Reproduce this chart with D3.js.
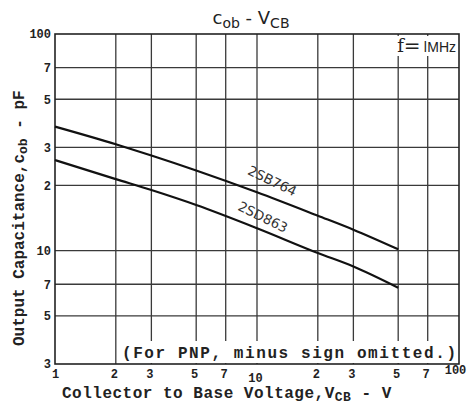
<!DOCTYPE html>
<meta charset="utf-8">
<script src="https://d3js.org/d3.v7.min.js"></script>
<style>
  body { margin: 0; background: #fff; }
</style>
<div id="chart"></div>
<script>

// data (V_CB in volts, C_ob in pF)
const vcb = [1, 2, 3, 5, 10, 20, 30, 50];
const cob2SB764 = [37.4, 31.0, 27.5, 23.45, 18.6, 14.5, 12.5, 10.15];
const cob2SD863 = [26.2, 21.4, 19.05, 16.25, 12.7, 9.76, 8.46, 6.75];

const xGrid = [2, 3, 5, 7, 10, 20, 30, 50, 70];
const yGrid = [5, 7, 10, 20, 30, 50, 70];
const xTickVals = [1, 2, 3, 5, 7, 10, 20, 30, 50, 70, 100];
const xTickText = ["1", "2", "3", "5", "7", "10", "2", "3", "5", "7", "100"];
const yTickVals = [3, 5, 7, 10, 20, 30, 50, 70, 100];
const yTickText = ["3", "5", "7", "10", "2", "3", "5", "7", "100"];

const W = 467, H = 408;
const margin = {top: 34, right: 8, bottom: 44, left: 55};
const width = W - margin.left - margin.right,
      height = H - margin.top - margin.bottom;

const svg = d3.select("#chart").append("svg")
    .attr("width", W)
    .attr("height", H);

const g = svg.append("g")
    .attr("transform", `translate(${margin.left}, ${margin.top})`);

const x = d3.scaleLog().domain([1, 100]).range([0, width]);
const y = d3.scaleLog().domain([3, 100]).range([height, 0]);

const ink = "#222";

// grid
g.selectAll(".vgrid").data(xGrid).join("line")
    .attr("x1", d => x(d)).attr("x2", d => x(d))
    .attr("y1", 0).attr("y2", height)
    .attr("stroke", "#3a3a3a").attr("stroke-width", 1.3);
g.selectAll(".hgrid").data(yGrid).join("line")
    .attr("y1", d => y(d)).attr("y2", d => y(d))
    .attr("x1", 0).attr("x2", width)
    .attr("stroke", "#3a3a3a").attr("stroke-width", 1.3);

// frame
g.append("rect")
    .attr("width", width).attr("height", height)
    .attr("fill", "none").attr("stroke", ink).attr("stroke-width", 1.6);

// curves
const line = d3.line()
    .x((d, i) => x(vcb[i]))
    .y(d => y(d))
    .curve(d3.curveMonotoneX);

[cob2SB764, cob2SD863].forEach(s => {
  g.append("path")
      .attr("d", line(s))
      .attr("fill", "none")
      .attr("stroke", "#111")
      .attr("stroke-width", 2.2);
});

// curve labels
const curveLabel = (txt, v, c) => {
  g.append("text")
      .attr("transform", `translate(${x(v)}, ${y(c)}) rotate(26)`)
      .attr("text-anchor", "middle")
      .attr("dy", "0.35em")
      .style("font-family", "'DejaVu Sans', sans-serif")
      .style("font-size", "13.5px")
      .style("fill", "#333")
      .text(txt);
};
curveLabel("2SB764", 11.9, 21.0);
curveLabel("2SD863", 10.7, 14.3);

// f = 1MHz note
g.append("rect")
    .attr("x", width - 78).attr("y", 2)
    .attr("width", 76).attr("height", 20)
    .attr("fill", "#fff");
const fNote = g.append("text")
    .attr("x", width - 3).attr("y", 18)
    .attr("text-anchor", "end")
    .style("fill", ink);
fNote.append("tspan")
    .style("font-family", "'DejaVu Serif', serif")
    .style("font-size", "18px")
    .text("f");
fNote.append("tspan")
    .style("font-family", "'DejaVu Sans', sans-serif")
    .style("font-size", "20px")
    .text("=");
fNote.append("tspan")
    .style("font-family", "'Liberation Sans Narrow', 'Liberation Sans', sans-serif")
    .style("font-size", "14px")
    .attr("dx", 3)
    .text("ǀMHz");

// PNP note
g.append("rect")
    .attr("x", 66).attr("y", height - 23)
    .attr("width", width - 68).attr("height", 22)
    .attr("fill", "#fff");
g.append("text")
    .attr("x", width - 3).attr("y", height - 6)
    .attr("text-anchor", "end")
    .style("font-family", "'Liberation Mono', monospace")
    .style("font-weight", "bold")
    .style("font-size", "16px")
    .attr("textLength", 334)
    .style("fill", ink)
    .text("(For PNP, minus sign omitted.)");

// axes tick labels
const xAxis = g.append("g")
    .attr("transform", `translate(0, ${height})`)
    .call(d3.axisBottom(x).tickValues(xTickVals).tickSize(0).tickPadding(4)
      .tickFormat((d, i) => xTickText[i]));
xAxis.select(".domain").remove();
xAxis.selectAll("text")
    .style("font-family", "'Liberation Mono', monospace")
    .style("font-weight", "bold")
    .style("font-size", "12px")
    .style("fill", ink)
    .attr("dy", d => d === 10 ? "1.2em" : d === 100 ? "0.5em" : "0.8em")
    .attr("dx", d => d === 1 ? 0 : d === 100 ? -4 : -2);

const yAxis = g.append("g")
    .call(d3.axisLeft(y).tickValues(yTickVals).tickSize(0).tickPadding(4)
      .tickFormat((d, i) => yTickText[i]));
yAxis.select(".domain").remove();
yAxis.selectAll("text")
    .style("font-family", "'Liberation Mono', monospace")
    .style("font-weight", "bold")
    .style("font-size", "12px")
    .style("fill", ink);

// title
const title = svg.append("text")
    .attr("x", 251).attr("y", 24)
    .attr("text-anchor", "middle")
    .style("font-family", "'DejaVu Sans', sans-serif")
    .style("font-size", "18px")
    .style("fill", ink);
title.append("tspan").text("c");
title.append("tspan").attr("baseline-shift", "-25%").style("font-size", "14px").text("ob");
title.append("tspan").text(" - V");
title.append("tspan").attr("baseline-shift", "-25%").style("font-size", "14px").text("CB");

// x axis title
const xt = svg.append("text")
    .attr("x", 62).attr("y", 398)
    .style("font-family", "'Liberation Mono', monospace")
    .style("font-weight", "bold")
    .style("font-size", "16px")
    .style("letter-spacing", "0.5px")
    .style("fill", ink);
xt.append("tspan").text("Collector to Base Voltage,V");
xt.append("tspan").attr("baseline-shift", "-25%").style("font-size", "13px").text("CB");
xt.append("tspan").text(" - V");

// y axis title
const yt = svg.append("text")
    .attr("transform", "translate(24, 346) rotate(-90)")
    .style("font-family", "'Liberation Mono', monospace")
    .style("font-weight", "bold")
    .style("font-size", "16px")
    .style("fill", ink);
yt.append("tspan").text("Output Capacitance,c");
yt.append("tspan").attr("baseline-shift", "-25%").style("font-size", "13px").text("ob");
yt.append("tspan").text(" - pF");

</script>
